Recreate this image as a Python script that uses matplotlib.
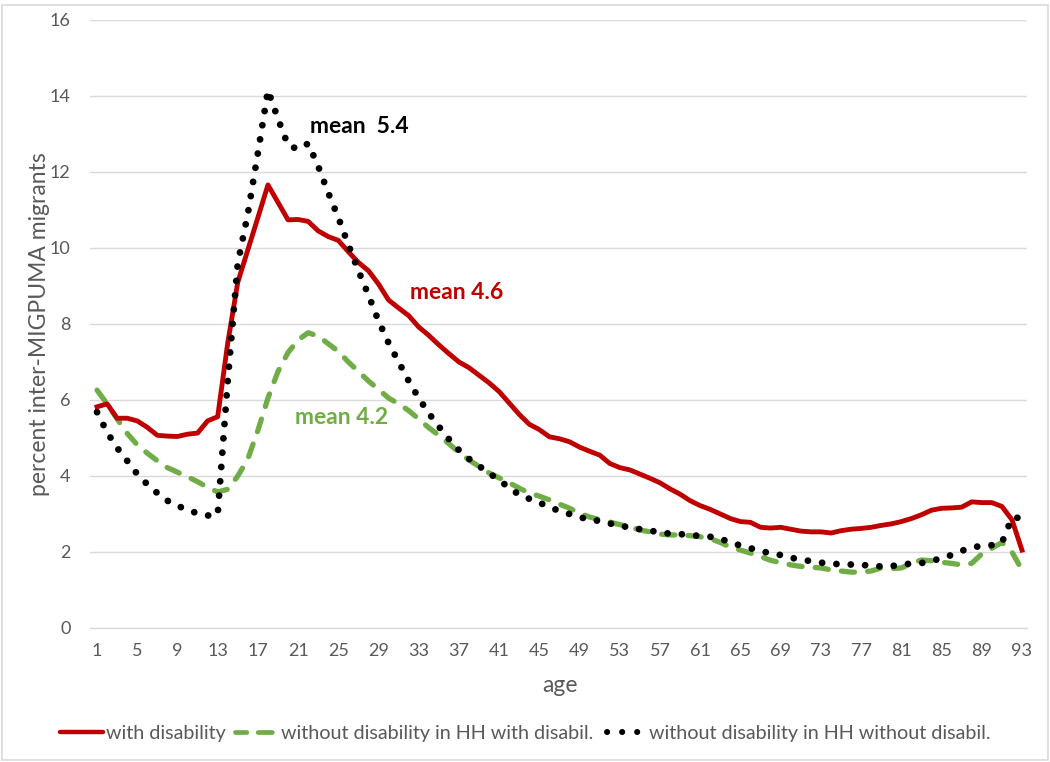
import matplotlib
matplotlib.use("Agg")
import matplotlib.pyplot as plt
import numpy as np
from matplotlib.lines import Line2D
from matplotlib.patches import Rectangle

plt.rcParams["font.family"] = ["Lato", "DejaVu Sans"]

# --- data ---
ages = np.arange(1, 94)

with_disability = [
    5.82, 5.90, 5.52, 5.52, 5.45, 5.28, 5.07, 5.05, 5.04, 5.10,
    5.13, 5.45, 5.56, 7.50, 9.10, 9.95, 10.80, 11.66, 11.20, 10.74,
    10.75, 10.70, 10.45, 10.30, 10.20, 9.90, 9.62, 9.40, 9.05, 8.63,
    8.42, 8.22, 7.92, 7.70, 7.45, 7.22, 7.00, 6.85, 6.65, 6.45,
    6.22, 5.92, 5.62, 5.36, 5.22, 5.03, 4.98, 4.90, 4.76, 4.65,
    4.55, 4.33, 4.22, 4.16, 4.05, 3.94, 3.82, 3.66, 3.52, 3.35,
    3.22, 3.12, 3.00, 2.88, 2.80, 2.78, 2.65, 2.63, 2.65, 2.60,
    2.55, 2.53, 2.53, 2.50, 2.56, 2.60, 2.62, 2.65, 2.70, 2.74,
    2.80, 2.88, 2.98, 3.10, 3.15, 3.16, 3.18, 3.32, 3.30, 3.30,
    3.20, 2.85, 2.05,
]

without_in_hh_with = [
    6.26, 5.90, 5.50, 5.12, 4.82, 4.60, 4.40, 4.22, 4.10, 3.98,
    3.85, 3.70, 3.58, 3.65, 4.00, 4.45, 5.20, 6.05, 6.75, 7.25,
    7.58, 7.77, 7.68, 7.48, 7.28, 7.00, 6.75, 6.50, 6.28, 6.05,
    5.90, 5.72, 5.50, 5.27, 5.07, 4.85, 4.62, 4.42, 4.25, 4.08,
    3.95, 3.82, 3.68, 3.55, 3.47, 3.37, 3.26, 3.15, 3.02, 2.92,
    2.85, 2.79, 2.72, 2.66, 2.58, 2.53, 2.47, 2.45, 2.45, 2.43,
    2.40, 2.35, 2.25, 2.13, 2.05, 1.97, 1.88, 1.78, 1.72, 1.66,
    1.62, 1.60, 1.58, 1.53, 1.50, 1.47, 1.47, 1.50, 1.58, 1.56,
    1.58, 1.70, 1.79, 1.77, 1.73, 1.70, 1.66, 1.70, 1.95, 2.10,
    2.25, 2.00, 1.53,
]

without_in_hh_without = [
    5.68, 5.15, 4.74, 4.40, 4.05, 3.78, 3.55, 3.35, 3.22, 3.10,
    3.02, 2.96, 2.98, 6.50, 9.60, 10.90, 12.50, 14.15, 13.40, 12.70,
    12.60, 12.75, 12.15, 11.45, 10.80, 10.08, 9.40, 8.76, 8.08, 7.50,
    7.00, 6.50, 6.05, 5.65, 5.30, 4.97, 4.68, 4.45, 4.26, 4.08,
    3.88, 3.70, 3.50, 3.40, 3.30, 3.18, 3.08, 3.00, 2.91, 2.87,
    2.81, 2.75, 2.70, 2.64, 2.60, 2.56, 2.52, 2.48, 2.47, 2.45,
    2.42, 2.40, 2.35, 2.25, 2.17, 2.10, 2.02, 1.97, 1.92, 1.85,
    1.80, 1.76, 1.72, 1.69, 1.68, 1.67, 1.66, 1.64, 1.62, 1.63,
    1.66, 1.70, 1.71, 1.76, 1.84, 1.92, 2.03, 2.12, 2.16, 2.18,
    2.24, 2.90, 2.90,
]

labels = [
    "with disability",
    "without disability in HH with disabil.",
    "without disability in HH without disabil.",
]
means = ["mean 4.6", "mean 4.2", "mean  5.4"]

RED = "#C00000"
GREEN = "#70AD47"
BLACK = "#000000"
GREY_TXT = "#595959"
GRID = "#D9D9D9"

fig = plt.figure(figsize=(10.5, 7.62), dpi=100)
ax = fig.add_axes([90 / 1050, 1 - 628 / 762, 937 / 1050, 608 / 762])

ax.plot(ages, with_disability, color=RED, lw=3.5, solid_joinstyle="round",
        label=labels[0], zorder=3)
ax.plot(ages, without_in_hh_with, color=GREEN, lw=3.8, dashes=(2.5, 2.5),
        dash_capstyle="round", label=labels[1], zorder=2)
ax.plot(ages, without_in_hh_without, color=BLACK, lw=4.9, dashes=(0.01, 2.1),
        dash_capstyle="round", label=labels[2], zorder=4)

ax.set_xlim(0.3, 93.5)
ax.set_ylim(0, 16)
ax.set_yticks(np.arange(0, 17, 2))
ax.set_xticks(ages[::4])
ax.grid(axis="y", color=GRID, lw=1.0)
ax.set_axisbelow(True)
for s in ["top", "right", "left"]:
    ax.spines[s].set_visible(False)
ax.spines["bottom"].set_color(GRID)
ax.spines["bottom"].set_linewidth(1.0)
ax.tick_params(axis="both", length=0, labelsize=13, labelcolor=GREY_TXT)
ax.tick_params(axis="y", pad=14)
ax.tick_params(axis="x", pad=11)

ax.set_xlabel("age", fontsize=16.5, color=GREY_TXT)
ax.set_ylabel("percent inter-MIGPUMA migrants", fontsize=16.5, color=GREY_TXT)
ax.xaxis.set_label_coords((560 - 90) / 937, -(686 - 628) / 608)
ax.yaxis.set_label_coords(-(90 - 40) / 937, (628 - 324) / 608)
ax.xaxis.label.set_va("center")
ax.yaxis.label.set_va("center")

# mean annotations
ax.text(32.1, 8.84, means[0], color=RED, fontsize=16.5, fontweight="bold",
        va="center", ha="left")
ax.text(20.7, 5.53, means[1], color=GREEN, fontsize=16.5, fontweight="bold",
        va="center", ha="left")
ax.text(22.2, 13.2, means[2], color=BLACK, fontsize=16.5, fontweight="bold",
        va="center", ha="left")

handles = [
    Line2D([], [], color=RED, lw=3.2, solid_capstyle="round"),
    Line2D([], [], color=GREEN, lw=3.4, linestyle=(0.6, (3.0, 2.4)),
           dash_capstyle="round"),
    Line2D([], [], color=BLACK, lw=4.4, linestyle=(1.63, (0.01, 2.45)),
           dash_capstyle="round"),
]
fig.legend(handles, labels, loc="center", bbox_to_anchor=(0.5, 1 - 733 / 762),
           ncol=3, frameon=False, fontsize=14.2, labelcolor=GREY_TXT,
           handlelength=2.2, handletextpad=0.15, columnspacing=0.45)

# chart-area border
fig.patches.append(Rectangle((0.002, 0.002), 0.996, 0.992, transform=fig.transFigure,
                             fill=False, edgecolor=GRID, lw=1.2))

fig.savefig("out.png", dpi=100)
